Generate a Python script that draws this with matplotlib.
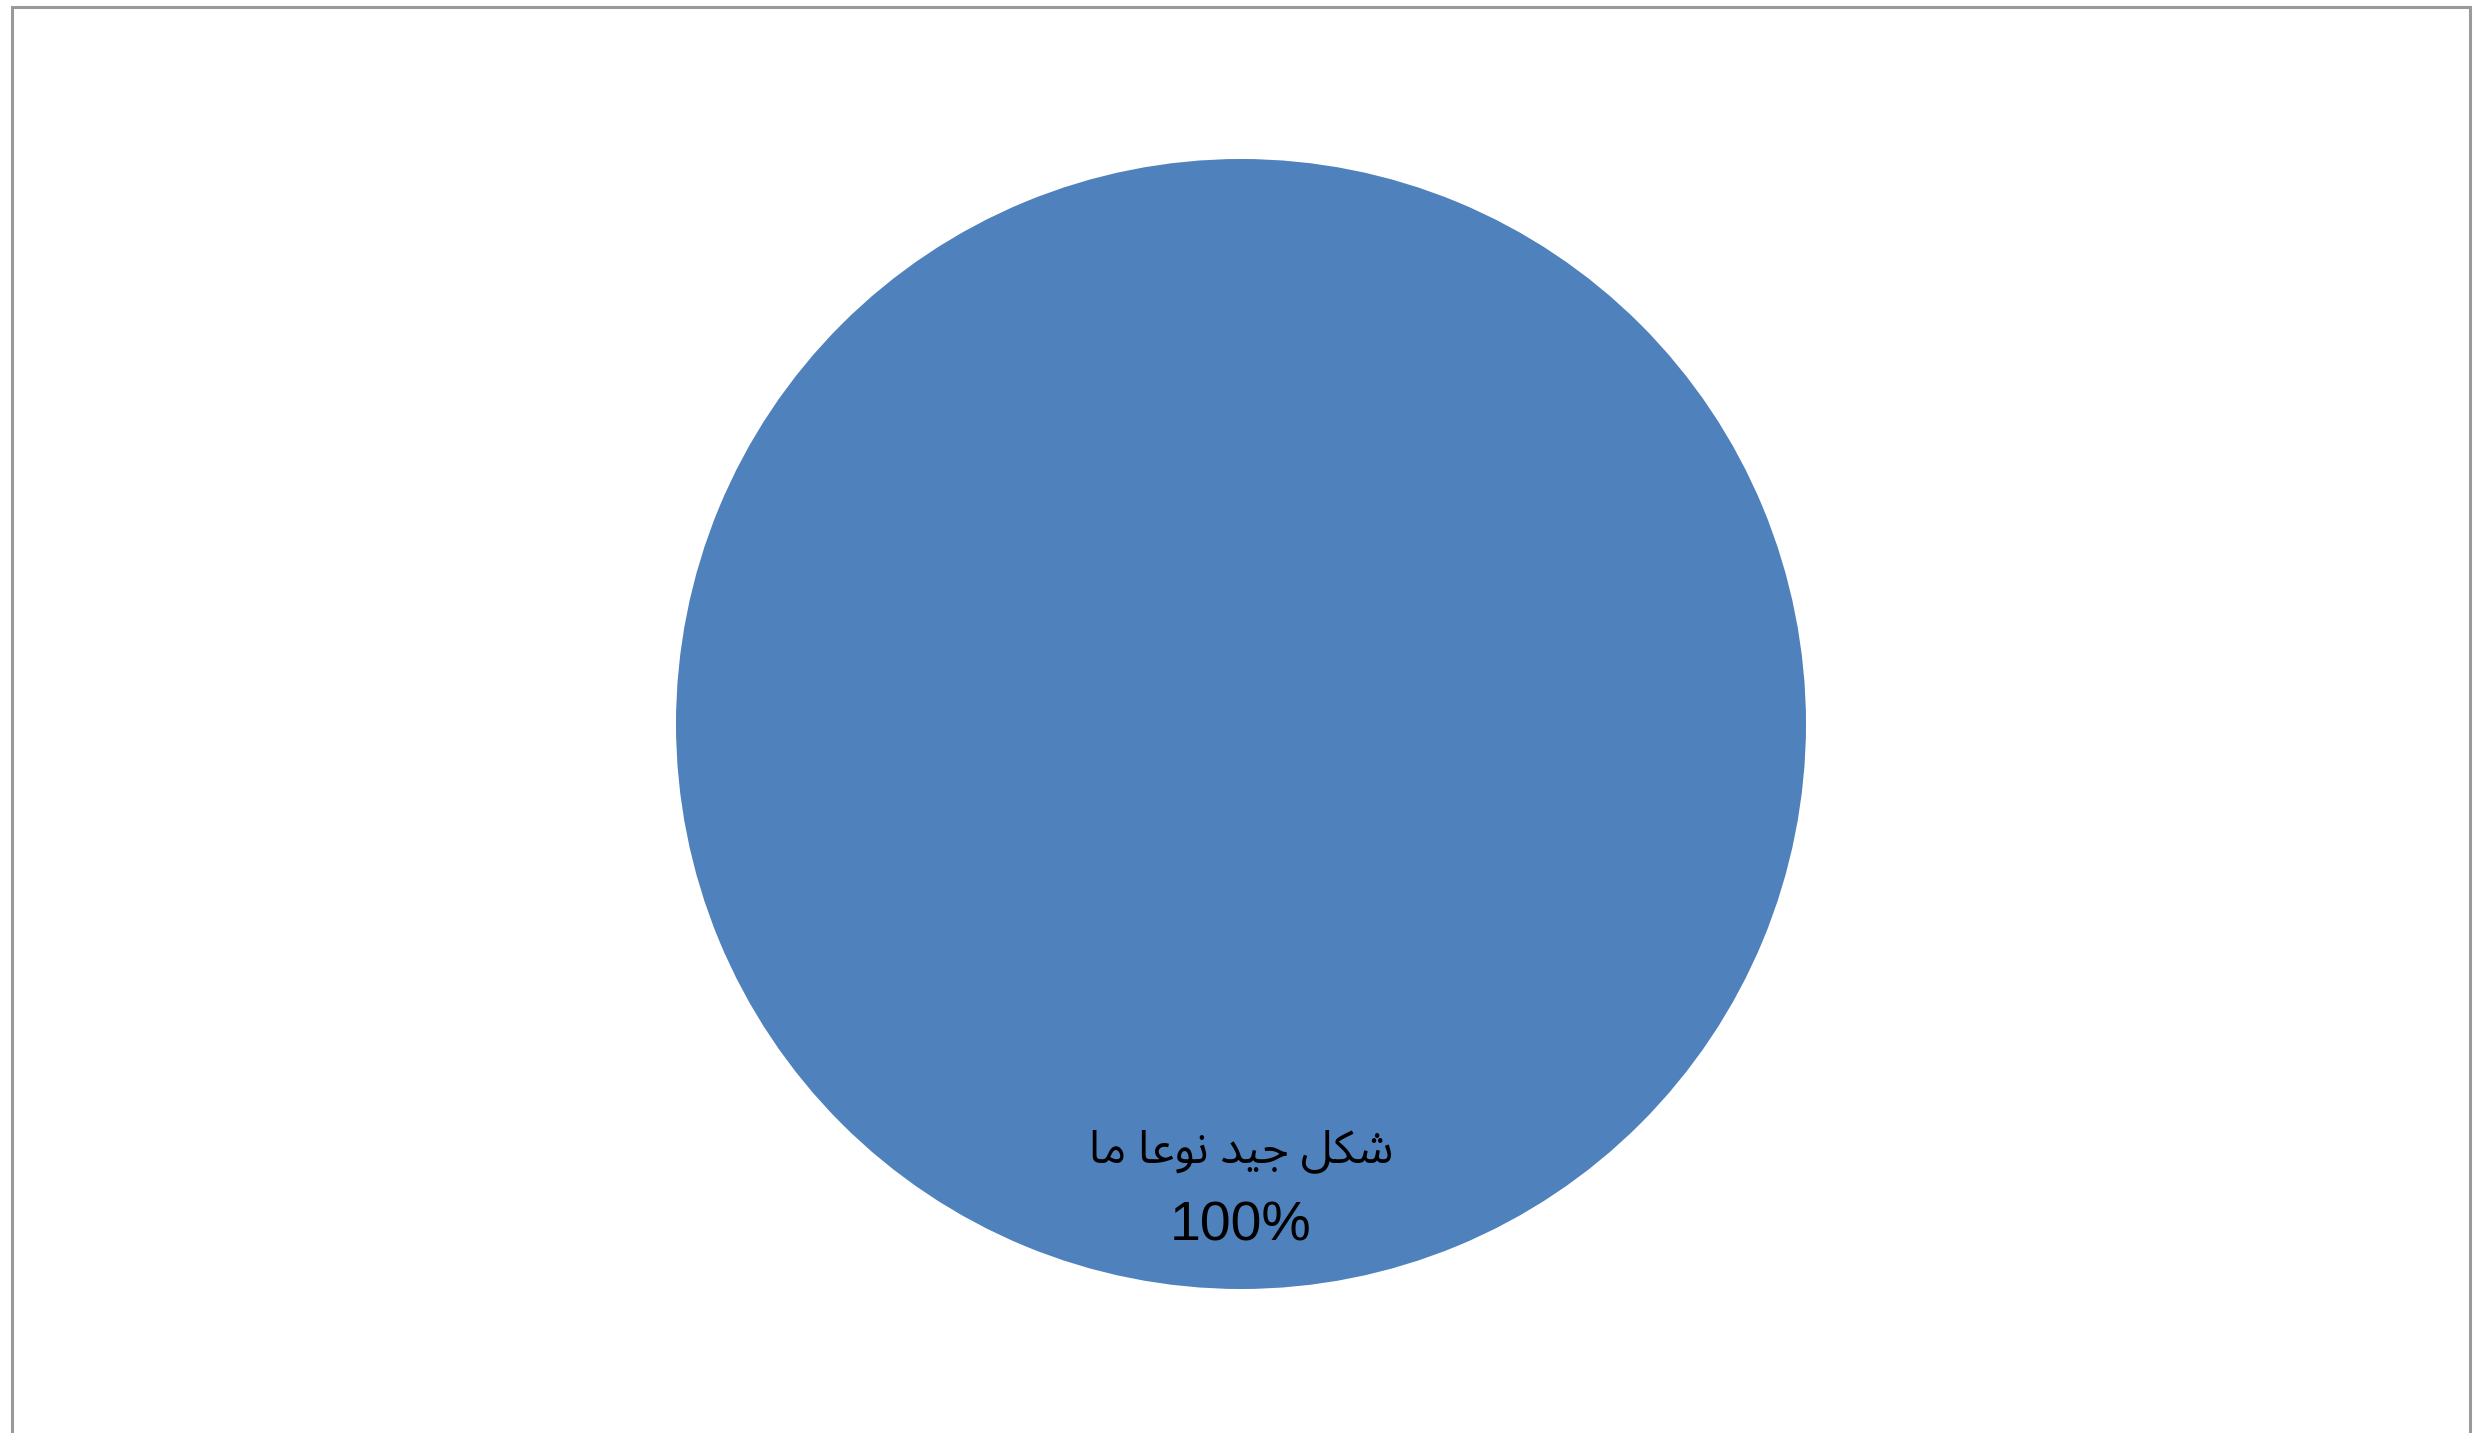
import math
import matplotlib
matplotlib.use("Agg")
import matplotlib.pyplot as plt
from matplotlib.lines import Line2D

# ---- data ----
categories = ["شكل جيد نوعا ما"]
values = [100]
colors = ["#4F81BD"]

# ---- minimal Arabic shaping (presentation forms) ----
FORMS = {  # isolated, final, initial, medial
    "ش": ("\uFEB5", "\uFEB6", "\uFEB7", "\uFEB8"),
    "ك": ("\uFED9", "\uFEDA", "\uFEDB", "\uFEDC"),
    "ل": ("\uFEDD", "\uFEDE", "\uFEDF", "\uFEE0"),
    "ج": ("\uFE9D", "\uFE9E", "\uFE9F", "\uFEA0"),
    "ي": ("\uFEF1", "\uFEF2", "\uFEF3", "\uFEF4"),
    "د": ("\uFEA9", "\uFEAA", None, None),
    "ن": ("\uFEE5", "\uFEE6", "\uFEE7", "\uFEE8"),
    "و": ("\uFEED", "\uFEEE", None, None),
    "ع": ("\uFEC9", "\uFECA", "\uFECB", "\uFECC"),
    "ا": ("\uFE8D", "\uFE8E", None, None),
    "م": ("\uFEE1", "\uFEE2", "\uFEE3", "\uFEE4"),
}


def dual(c):
    return c in FORMS and FORMS[c][2] is not None


def shape(text):
    out = []
    for i, c in enumerate(text):
        if c not in FORMS:
            out.append(c)
            continue
        prev = text[i - 1] if i > 0 else ""
        nxt = text[i + 1] if i + 1 < len(text) else ""
        jp = dual(prev)
        jn = dual(c) and nxt in FORMS
        iso, fin, ini, med = FORMS[c]
        if jp and jn:
            out.append(med)
        elif jp:
            out.append(fin)
        elif jn:
            out.append(ini)
        else:
            out.append(iso)
    return "".join(out)[::-1]


W, H = 2473, 1433
fig = plt.figure(figsize=(W / 100, H / 100), dpi=100)
ax = fig.add_axes([0, 0, 1, 1])

cx, cy, r = 1241, H - 724, 565

labels_disp = [shape(c) for c in categories]

wedges, texts = ax.pie(
    values, colors=colors, center=(cx, cy), radius=r, startangle=90,
    frame=True, wedgeprops=dict(linewidth=0, antialiased=True),
)
ax.set_xlim(0, W)
ax.set_ylim(0, H)
ax.axis("off")

# data labels (category + percent), placed along the slice bisector
total = sum(values)
for lab, v in zip(labels_disp, values):
    a = math.radians(90 + 360 * v / total / 2)
    d1 = 0.755
    ax.text(cx + d1 * r * math.cos(a), cy + d1 * r * math.sin(a), lab,
            ha="center", va="center", fontsize=33,
            family="Noto Sans Arabic", color="#000000")
    d2 = 0.89
    ax.text(cx + d2 * r * math.cos(a), cy + d2 * r * math.sin(a),
            f"{v / total * 100:.0f}%", ha="center", va="center",
            fontsize=40, family="Liberation Sans", color="#000000")

# outer frame (top, left, right)
ax.add_line(Line2D([12, 12, 2470, 2470], [-20, H - 7, H - 7, -20],
                   color="#9a9a9a", linewidth=2.2, solid_joinstyle="miter"))

fig.savefig("out.png", dpi=100)
